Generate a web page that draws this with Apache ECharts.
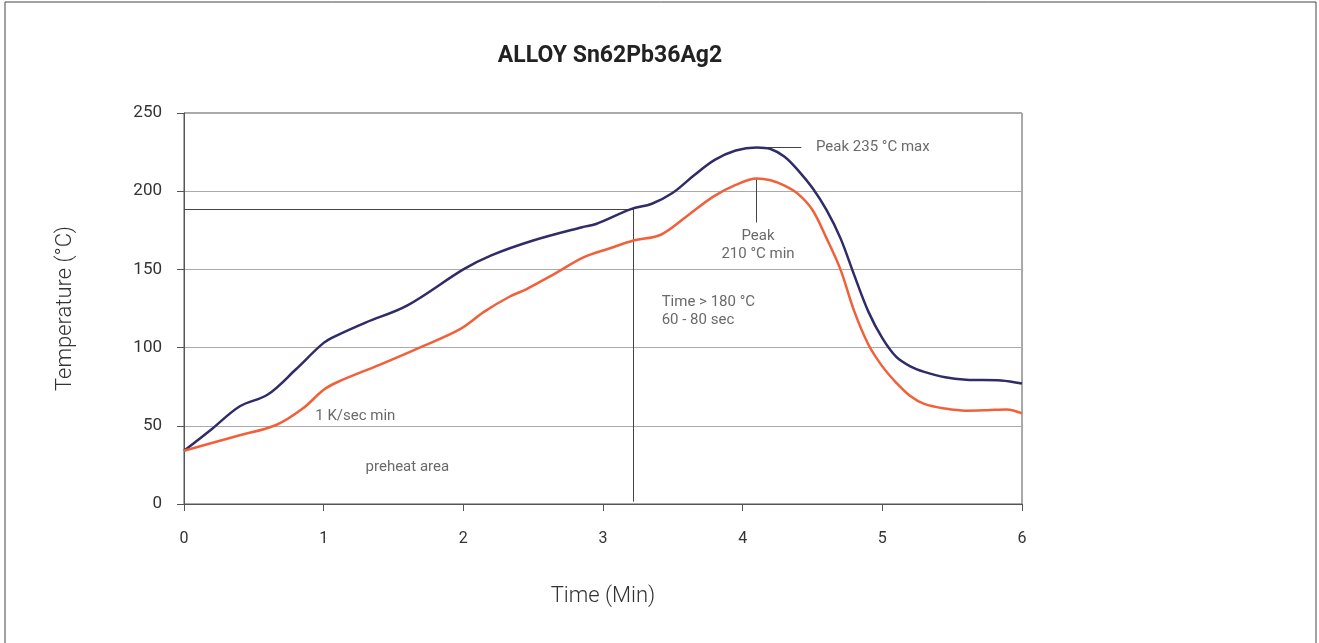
<!DOCTYPE html>
<html>
<head>
<meta charset="utf-8">
<style>
  html, body { margin: 0; padding: 0; background: #fff; }
  #chart { width: 1319px; height: 643px; }
</style>
<script src="https://cdn.jsdelivr.net/npm/echarts@6/dist/echarts.min.js"></script>
</head>
<body>
<div id="chart"></div>
<script>
// ---- data ----
const xTicks = [0, 1, 2, 3, 4, 5, 6];
const yTicks = [0, 50, 100, 150, 200, 250];

const maxTime = [0, 0.2, 0.4, 0.6, 0.8, 1.0, 1.1, 1.3, 1.6, 2.0, 2.2, 2.5, 2.85, 2.95, 3.2, 3.35, 3.5, 3.65, 3.8, 3.95, 4.1, 4.2, 4.3, 4.4, 4.5, 4.6, 4.7, 4.8, 4.9, 5.0, 5.1, 5.2, 5.3, 5.45, 5.6, 5.85, 6.0];
const maxTemp = [34, 48, 62.5, 70, 86, 103, 108, 116, 127, 150, 159, 168.5, 177, 179, 188.5, 192, 199, 210, 220, 226, 228, 227, 222, 213, 202, 188, 170, 146, 123, 106, 94, 88, 84.5, 81, 79.5, 79, 77];

const minTime = [0, 0.38, 0.66, 0.85, 1.0, 1.1, 1.4, 1.7, 1.98, 2.15, 2.33, 2.45, 2.65, 2.86, 3.05, 3.22, 3.41, 3.6, 3.79, 3.95, 4.1, 4.2, 4.3, 4.4, 4.5, 4.6, 4.7, 4.8, 4.9, 5.0, 5.1, 5.2, 5.3, 5.45, 5.6, 5.75, 5.89, 6.0];
const minTemp = [34, 43.5, 50.5, 61, 73, 78, 89, 100.5, 112, 123, 132.5, 137.3, 147, 157.7, 163.5, 168.5, 172, 184, 196.5, 204, 208.2, 207, 203.5, 198, 188, 170, 150, 123, 102, 88, 77.5, 69, 64, 61, 59.7, 60, 60.5, 58];

// annotation lines (data coordinates)
const liquidusTemp = 188.5;
const liquidusTime = 3.22;
const peakMax = [4.1, 228];
const peakMaxLineEnd = 4.42;
const peakMin = [4.1, 208.2];
const peakMinLineEnd = 180;

// annotation texts
const notes = [
  { text: 'Peak 235 °C max', x: 4.525, y: 228.3, align: 'left' },
  { text: 'Peak', x: 4.11, y: 171.4, align: 'center' },
  { text: '210 °C min', x: 4.11, y: 160, align: 'center' },
  { text: 'Time > 180 °C', x: 3.42, y: 129, align: 'left' },
  { text: '60 - 80 sec', x: 3.42, y: 117.6, align: 'left' },
  { text: '1 K/sec min', x: 0.94, y: 56.3, align: 'left' },
  { text: 'preheat area', x: 1.30, y: 23.7, align: 'left' }
];

const zip = (a, b) => a.map((v, i) => [v, b[i]]);

const chart = echarts.init(document.getElementById('chart'), null, { renderer: 'canvas' });
const FONT = 'Roboto';
const lineCol = '#555';

chart.setOption({
  animation: false,
  backgroundColor: '#fff',
  title: {
    text: 'ALLOY Sn62Pb36Ag2',
    left: 605, top: 40, textAlign: 'center',
    textStyle: { fontFamily: FONT, fontSize: 23, fontWeight: 'bold', color: '#222' }
  },
  graphic: [
    { type: 'rect', shape: { x: 5, y: 2, width: 1311, height: 660 }, style: { fill: 'none', stroke: '#444', lineWidth: 1 }, silent: true, z: -10 }
  ],
  grid: { left: 184, right: 297, top: 113, bottom: 139, show: true, borderColor: lineCol, borderWidth: 1 },
  xAxis: {
    type: 'value', min: 0, max: 6, interval: 1,
    name: 'Time (Min)', nameLocation: 'middle', nameGap: 81,
    nameTextStyle: { fontFamily: FONT, fontSize: 22, color: '#333', fontWeight: 300 },
    axisLine: { show: true, onZero: false, lineStyle: { color: lineCol, width: 1 } },
    axisTick: { show: true, length: 7, inside: false, lineStyle: { color: lineCol } },
    axisLabel: { fontFamily: FONT, fontSize: 16, color: '#333', margin: 27,
      formatter: v => xTicks.includes(v) ? String(v) : '' },
    splitLine: { show: false }
  },
  yAxis: {
    type: 'value', min: 0, max: 250, interval: 50,
    name: 'Temperature (°C)', nameLocation: 'middle', nameGap: 108, nameRotate: 90,
    nameTextStyle: { fontFamily: FONT, fontSize: 22, color: '#333', fontWeight: 300 },
    axisLine: { show: true, lineStyle: { color: lineCol, width: 1 } },
    axisTick: { show: true, length: 7, inside: false, lineStyle: { color: lineCol } },
    axisLabel: { fontFamily: FONT, fontSize: 17, color: '#333', margin: 22,
      formatter: v => yTicks.includes(v) ? String(v) : '' },
    splitLine: { show: true, lineStyle: { color: '#aaa', width: 1 } }
  },
  series: [
    {
      name: 'max', type: 'line', data: zip(maxTime, maxTemp), smooth: 0.35,
      showSymbol: false, lineStyle: { color: '#2f2c68', width: 2.5 }, z: 5,
      markLine: {
        silent: true, symbol: 'none',
        label: { show: false },
        lineStyle: { color: '#444', width: 1, type: 'solid' },
        data: [
          [{ coord: [0, liquidusTemp] }, { coord: [liquidusTime, liquidusTemp] }],
          [{ coord: [liquidusTime, liquidusTemp] }, { coord: [liquidusTime, 1.5] }],
          [{ coord: peakMax }, { coord: [peakMaxLineEnd, peakMax[1]] }],
          [{ coord: peakMin }, { coord: [peakMin[0], peakMinLineEnd] }]
        ]
      }
    },
    {
      name: 'min', type: 'line', data: zip(minTime, minTemp), smooth: 0.35,
      showSymbol: false, lineStyle: { color: '#f2603a', width: 2.5 }, z: 6
    },
    {
      name: 'notes', type: 'scatter', symbolSize: 0, silent: true,
      data: notes.map(n => ({
        value: [n.x, n.y],
        label: { show: true, position: 'inside', formatter: n.text, align: n.align, verticalAlign: 'middle',
          fontFamily: FONT, fontSize: 15, color: '#444' }
      }))
    }
  ]
});
</script>
</body>
</html>
